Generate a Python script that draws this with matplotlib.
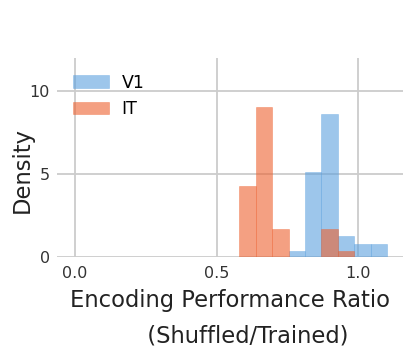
import matplotlib
matplotlib.use("Agg")
import matplotlib.pyplot as plt
import numpy as np

# Shared histogram bin edges
bin_edges = [0.580, 0.638, 0.696, 0.754, 0.812, 0.870, 0.928, 0.986, 1.044, 1.102]

# Density per bin for each area
v1_density = [0.0, 0.0, 0.0, 0.40, 5.16, 8.66, 1.31, 0.80, 0.80]
it_density = [4.32, 9.08, 1.71, 0.0, 0.0, 1.71, 0.40, 0.0, 0.0]

x_ticks = [0.0, 0.5, 1.0]
y_ticks = [0, 5, 10]

series = [
    ("V1", v1_density, "#5ca0de"),
    ("IT", it_density, "#ed612f"),
]

fig = plt.figure(figsize=(4.08, 3.49), dpi=100)
ax = fig.add_axes([0.1397, 0.2622, 0.848, 0.5716])

edges = np.array(bin_edges)
lefts = edges[:-1]
widths = np.diff(edges)
for name, dens, col in series:
    ax.bar(lefts, dens, width=widths, align="edge", color=col, alpha=0.6,
           edgecolor=col, linewidth=0.4, label=name, zorder=2)

ax.set_xlim(-0.0635, 1.158)
ax.set_ylim(0, 12)
ax.set_xticks(x_ticks)
ax.set_xticklabels([f"{t:.1f}" for t in x_ticks])
ax.set_yticks(y_ticks)

ax.grid(True, color="#cccccc", linewidth=1.3, zorder=0)
ax.set_axisbelow(True)
for s in ax.spines.values():
    s.set_visible(False)
ax.tick_params(length=0, labelsize=11.5, labelcolor="#333333")
ax.tick_params(axis="y", pad=5)
ax.tick_params(axis="x", pad=6)

ax.set_ylabel("Density", fontsize=16.3, color="#222222")
ax.yaxis.set_label_coords(-0.066, 0.44)
ax.set_xlabel("Encoding Performance Ratio\n     (Shuffled/Trained)",
              fontsize=16.3, color="#222222", labelpad=6, linespacing=1.7)

leg = ax.legend(loc="upper left", frameon=False, fontsize=12.5,
                handlelength=2.07, handleheight=0.7, handletextpad=0.75,
                borderaxespad=0.5)

fig.savefig("out.png", dpi=100)
